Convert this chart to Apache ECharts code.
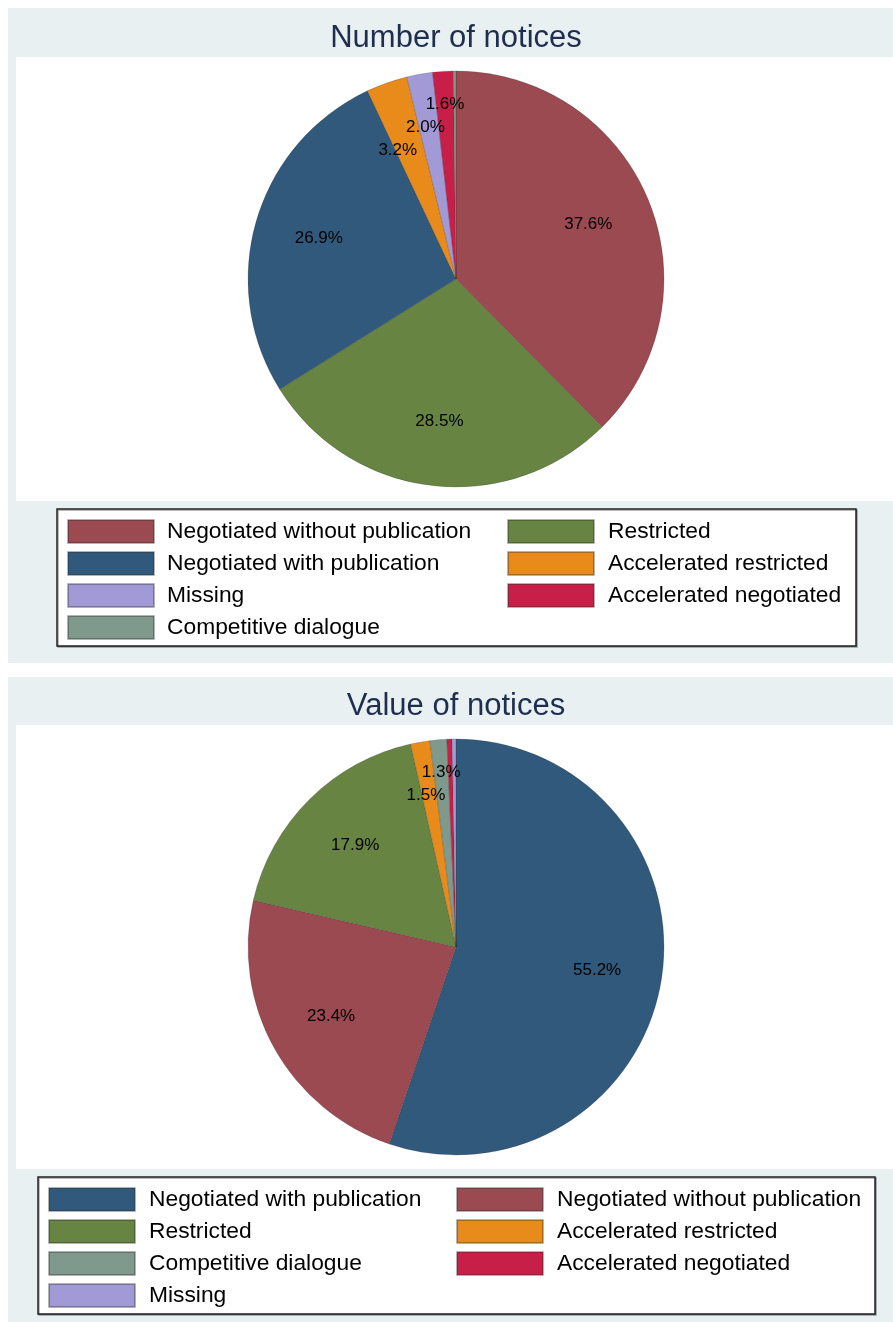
<!DOCTYPE html>
<html>
<head>
<meta charset="utf-8">
<script src="https://cdn.jsdelivr.net/npm/echarts@6/dist/echarts.min.js"></script>
<style>
  body { margin: 0; background: #fff; }
  #main { width: 893px; height: 1322px; }
</style>
</head>
<body>
<div id="main"></div>
<script>
// 数据
const countNames = ['Negotiated without publication', 'Restricted', 'Negotiated with publication',
  'Accelerated restricted', 'Missing', 'Accelerated negotiated', 'Competitive dialogue'];
const countPct = [37.6, 28.5, 26.9, 3.2, 2.0, 1.6, 0.2];

const valueNames = ['Negotiated with publication', 'Negotiated without publication', 'Restricted',
  'Accelerated restricted', 'Competitive dialogue', 'Accelerated negotiated', 'Missing'];
const valuePct = [55.2, 23.4, 17.9, 1.5, 1.3, 0.4, 0.3];

const colorOf = {
  'Negotiated without publication': '#9a4a50',
  'Negotiated with publication': '#31597c',
  'Restricted': '#678443',
  'Accelerated restricted': '#e88b1b',
  'Missing': '#a29ad6',
  'Accelerated negotiated': '#c81f48',
  'Competitive dialogue': '#7f998d'
};

const FONT = '"Liberation Sans", Arial, sans-serif';
const R = 208;

function pieData(names, vals) {
  return names.map((n, i) => ({ name: n, value: vals[i], itemStyle: { color: colorOf[n] } }));
}

// 透明的一层，只用来放百分比标签
function labelLayer(names, vals, cy, r0, test, extra) {
  return Object.assign({
    type: 'pie',
    center: [456, cy],
    radius: [r0, R],
    startAngle: 90,
    clockwise: true,
    silent: true,
    legendHoverLink: false,
    data: names.map((n, i) => ({ name: n, value: vals[i] })),
    itemStyle: { color: 'rgba(0,0,0,0)' },
    label: {
      show: true,
      position: 'inside',
      color: '#000',
      fontSize: 17,
      lineHeight: 23,
      fontFamily: FONT,
      formatter: function (p) {
        return test(p.value) ? p.value.toFixed(1) + '%' : '';
      }
    },
    labelLine: { show: false },
    emphasis: { disabled: true },
    animation: false
  }, extra || {});
}

function pieSeries(names, vals, cy) {
  return [
    {
      type: 'pie',
      center: [456, cy],
      radius: [0, R],
      startAngle: 90,
      clockwise: true,
      data: pieData(names, vals),
      label: { show: false },
      labelLine: { show: false },
      emphasis: { disabled: true },
      itemStyle: { borderWidth: 0.6, borderColor: 'rgba(40,40,40,0.35)' },
      animation: false
    },
    labelLayer(names, vals, cy, 72, v => v >= 5, { labelLayout: { hideOverlap: false } }),
    labelLayer(names, vals, cy, 136, v => v >= 1 && v < 5,
      { labelLayout: { hideOverlap: false, moveOverlap: 'shiftY' } })
  ];
}

function legendCol(names, idx, left, top, padLeft) {
  return {
    orient: 'vertical',
    left: left,
    top: top,
    padding: 0,
    itemWidth: 86,
    itemHeight: 23,
    itemGap: 7,
    selectedMode: false,
    icon: 'rect',
    data: idx.map(i => names[i]),
    textStyle: { fontSize: 22.8, fontFamily: FONT, color: '#000', lineHeight: 23, padding: [0, 0, 0, padLeft] }
  };
}

const myChart = echarts.init(document.getElementById('main'));
const option = {
  backgroundColor: '#fff',
  animation: false,
  title: [
    { text: 'Number of notices', left: 456, textAlign: 'center', top: 23, padding: 0,
      textStyle: { fontSize: 31, fontWeight: 'normal', color: '#1f2d4e', fontFamily: FONT } },
    { text: 'Value of notices', left: 456, textAlign: 'center', top: 691, padding: 0,
      textStyle: { fontSize: 31, fontWeight: 'normal', color: '#1f2d4e', fontFamily: FONT } }
  ],
  graphic: [
    { type: 'rect', z: 0, shape: { x: 8, y: 8, width: 900, height: 655 }, style: { fill: '#e8f0f2' } },
    { type: 'rect', z: 0, shape: { x: 16, y: 57, width: 900, height: 444 }, style: { fill: '#fff' } },
    { type: 'rect', z: 0, shape: { x: 57, y: 509, width: 799, height: 137 },
      style: { fill: '#fff', stroke: '#222', lineWidth: 1.5, shadowColor: 'rgba(0,0,0,0.35)', shadowOffsetX: 1, shadowOffsetY: 1 } },
    { type: 'rect', z: 0, shape: { x: 8, y: 677, width: 900, height: 660 }, style: { fill: '#e8f0f2' } },
    { type: 'rect', z: 0, shape: { x: 16, y: 725, width: 900, height: 444 }, style: { fill: '#fff' } },
    { type: 'rect', z: 0, shape: { x: 38, y: 1177, width: 837, height: 137 },
      style: { fill: '#fff', stroke: '#222', lineWidth: 1.5, shadowColor: 'rgba(0,0,0,0.35)', shadowOffsetX: 1, shadowOffsetY: 1 } }
  ],
  legend: [
    legendCol(countNames, [0, 2, 4, 6], 67, 519, 8),
    legendCol(countNames, [1, 3, 5], 507, 519, 9),
    legendCol(valueNames, [0, 2, 4, 6], 48, 1187, 9),
    legendCol(valueNames, [1, 3, 5], 456, 1187, 9)
  ],
  series: [].concat(
    pieSeries(countNames, countPct, 279),
    pieSeries(valueNames, valuePct, 947)
  )
};
// 绘制图表
myChart.setOption(option);
</script>
</body>
</html>
